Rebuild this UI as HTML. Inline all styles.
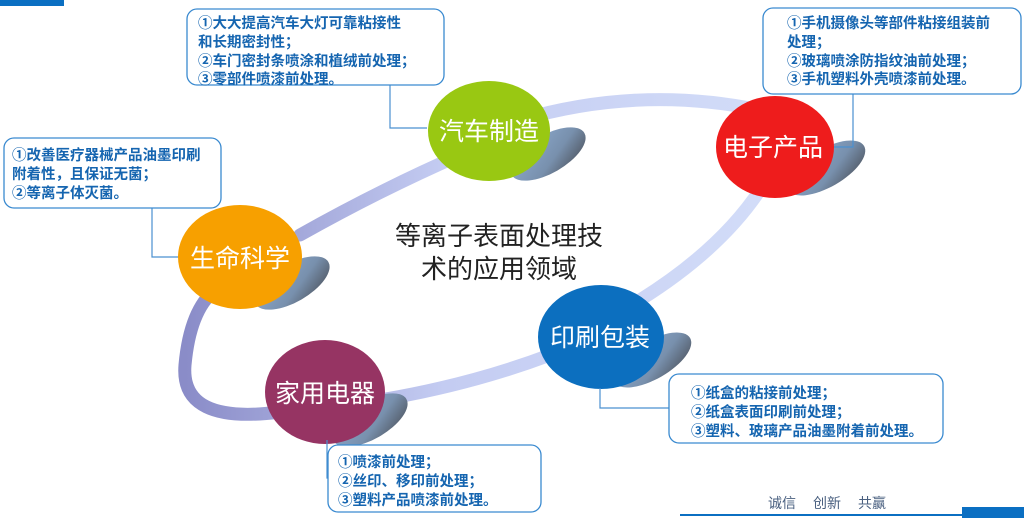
<!DOCTYPE html>
<html><head><meta charset="utf-8"><style>
html,body{margin:0;padding:0;background:#fff;}
svg{display:block;font-family:"Liberation Sans","Noto Sans CJK SC",sans-serif;}
.b{font-size:14.5px;font-weight:bold;fill:#1565b0;}
.c{font-size:25px;fill:#fff;}
</style></head><body>
<svg width="1024" height="518" viewBox="0 0 1024 518" xmlns="http://www.w3.org/2000/svg">
<defs>
<linearGradient id="sh" x1="0" y1="0" x2="1" y2="1"><stop offset="0" stop-color="#90aed3"/><stop offset="0.6" stop-color="#7890ad"/><stop offset="1" stop-color="#4a4f58"/></linearGradient>
<linearGradient id="rg" x1="0" y1="0" x2="1" y2="0"><stop offset="0" stop-color="#8a8cc8"/><stop offset="0.45" stop-color="#c4ccf2"/><stop offset="1" stop-color="#d2dcf8"/></linearGradient>
</defs>
<rect x="0" y="0" width="64" height="6" fill="#0b6fc2"/>
<path d="M300,235 Q380,190 460,155 M520,120 Q640,85 760,110 M760,190 Q720,250 640,300 M550,355 Q470,385 380,400 M280,412 Q180,425 185,365 Q190,310 215,290" fill="none" stroke="url(#rg)" stroke-width="13" stroke-linecap="round"/>
<ellipse cx="548" cy="154" rx="42" ry="19" transform="rotate(-30 548 154)" fill="url(#sh)"/>
<ellipse cx="826" cy="168" rx="44" ry="19" transform="rotate(-30 826 168)" fill="url(#sh)"/>
<ellipse cx="292" cy="283" rx="42" ry="19" transform="rotate(-30 292 283)" fill="url(#sh)"/>
<ellipse cx="370" cy="420" rx="42" ry="19" transform="rotate(-30 370 420)" fill="url(#sh)"/>
<ellipse cx="652" cy="360" rx="44" ry="19" transform="rotate(-30 652 360)" fill="url(#sh)"/>
<ellipse cx="489" cy="131" rx="61" ry="50" fill="#99c812"/>
<ellipse cx="775" cy="147" rx="59" ry="51" fill="#ee1c1c"/>
<ellipse cx="240" cy="257" rx="62" ry="52" fill="#f7a000"/>
<ellipse cx="325" cy="392" rx="60" ry="52" fill="#963463"/>
<ellipse cx="601" cy="337" rx="63" ry="52" fill="#0c6fbf"/>
<text class="c" x="489" y="140" text-anchor="middle">汽车制造</text>
<text class="c" x="773" y="156" text-anchor="middle">电子产品</text>
<text class="c" x="240" y="267" text-anchor="middle">生命科学</text>
<text class="c" x="325" y="402" text-anchor="middle">家用电器</text>
<text class="c" x="600" y="346" text-anchor="middle">印刷包装</text>
<text x="499" y="245" text-anchor="middle" font-size="26" fill="#222">等离子表面处理技</text>
<text x="499" y="278" text-anchor="middle" font-size="26" fill="#222">术的应用领域</text>
<g fill="none" stroke="#4a90d0" stroke-width="1.2">
<polyline points="390,85 390,128 427,128"/>
<polyline points="853,94 853,147 834,147"/>
<polyline points="152,208 152,257 178,257"/>
<polyline points="327,440 327,478 344,478"/>
<polyline points="600,388 600,408 669,408"/>
</g>
<g fill="#fff" stroke="#3a8ad0" stroke-width="1.3">
<rect x="187" y="9" width="257" height="76" rx="10"/>
<rect x="763" y="8" width="258" height="86" rx="10"/>
<rect x="4" y="138" width="217" height="70" rx="10"/>
<rect x="328" y="445" width="213" height="67" rx="10"/>
<rect x="669" y="374" width="274" height="69" rx="10"/>
</g>
<text class="b"><tspan x="198" y="28">①大大提高汽车大灯可靠粘接性</tspan><tspan x="198" y="47">和长期密封性；</tspan><tspan x="198" y="66">②车门密封条喷涂和植绒前处理；</tspan><tspan x="198" y="84">③零部件喷漆前处理。</tspan></text>
<text class="b"><tspan x="787" y="28">①手机摄像头等部件粘接组装前</tspan><tspan x="787" y="47">处理；</tspan><tspan x="787" y="66">②玻璃喷涂防指纹油前处理；</tspan><tspan x="787" y="84">③手机塑料外壳喷漆前处理。</tspan></text>
<text class="b"><tspan x="12" y="160">①改善医疗器械产品油墨印刷</tspan><tspan x="12" y="179">附着性，且保证无菌；</tspan><tspan x="12" y="198">②等离子体灭菌。</tspan></text>
<text class="b"><tspan x="338" y="467">①喷漆前处理；</tspan><tspan x="338" y="486">②丝印、移印前处理；</tspan><tspan x="338" y="505">③塑料产品喷漆前处理。</tspan></text>
<text class="b"><tspan x="691" y="398">①纸盒的粘接前处理；</tspan><tspan x="691" y="417">②纸盒表面印刷前处理；</tspan><tspan x="691" y="436">③塑料、玻璃产品油墨附着前处理。</tspan></text>
<text font-size="14" fill="#4a6080"><tspan x="768" y="508">诚信</tspan><tspan x="813" y="508">创新</tspan><tspan x="858" y="508">共赢</tspan></text>
<rect x="680" y="514" width="344" height="2" fill="#0b6fc2"/>
<rect x="962" y="507" width="62" height="11" fill="#0b6fc2"/>
</svg>
</body></html>
